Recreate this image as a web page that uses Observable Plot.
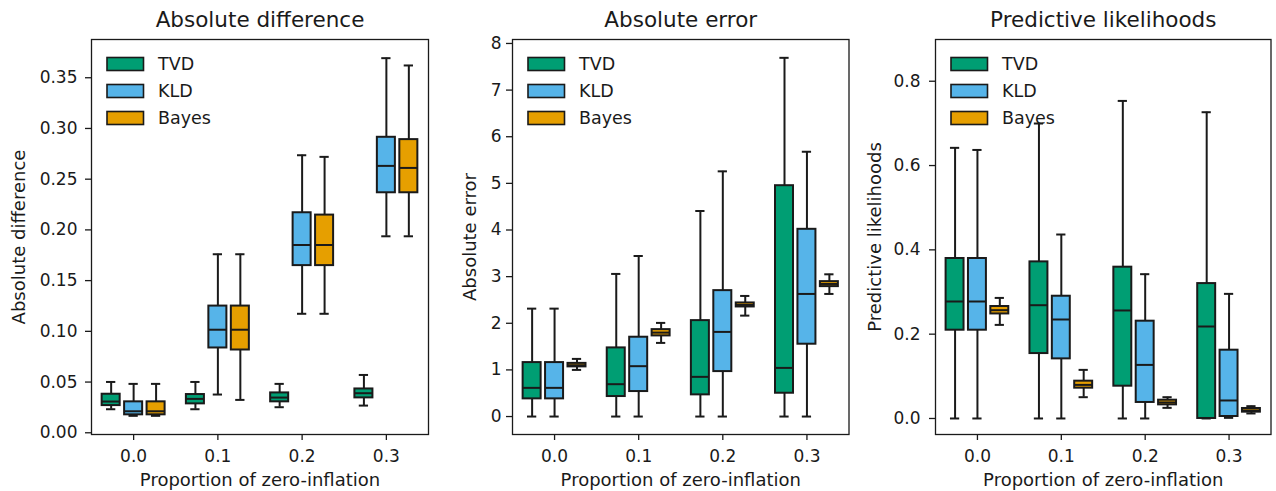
<!DOCTYPE html>
<html>
<head>
<meta charset="utf-8">
<script src="https://cdn.jsdelivr.net/npm/d3@7"></script>
<script src="https://cdn.jsdelivr.net/npm/@observablehq/plot@0.6"></script>
<style>
  html, body { margin: 0; padding: 0; background: #fff; }
  #root { position: relative; width: 1276px; height: 491px; overflow: hidden; }
  #root svg { position: absolute; left: 0; top: 0; }
</style>
</head>
<body>
<div id="root"></div>
<script>
// ---------- data ----------
const proportions = ["0.0", "0.1", "0.2", "0.3"];
const methods = ["TVD", "KLD", "Bayes"];
const methodColors = ["#009E73", "#56B4E9", "#E69F00"];

// each entry: [lower whisker, Q1, median, Q3, upper whisker], one per proportion
const absDiffTVD = [
  [0.0232, 0.0268, 0.0308, 0.0380, 0.0501],
  [0.0232, 0.0285, 0.0334, 0.0377, 0.0501],
  [0.0252, 0.0305, 0.0347, 0.0393, 0.0482],
  [0.0268, 0.0344, 0.0390, 0.0432, 0.0570]
];
const absDiffKLD = [
  [0.0167, 0.0177, 0.0212, 0.0305, 0.0482],
  [0.0377, 0.0836, 0.1016, 0.1249, 0.1760],
  [0.1173, 0.1648, 0.1851, 0.2169, 0.2736],
  [0.1937, 0.2366, 0.2631, 0.2913, 0.3693]
];
const absDiffBayes = [
  [0.0167, 0.0177, 0.0212, 0.0305, 0.0482],
  [0.0324, 0.0816, 0.1016, 0.1249, 0.1760],
  [0.1173, 0.1648, 0.1851, 0.2146, 0.2720],
  [0.1937, 0.2366, 0.2611, 0.2890, 0.3621]
];

const absErrTVD = [
  [0, 0.379, 0.615, 1.157, 2.314],
  [0, 0.429, 0.694, 1.472, 3.058],
  [0, 0.465, 0.851, 2.057, 4.408],
  [0, 0.500, 1.043, 4.950, 7.692]
];
const absErrKLD = [
  [0, 0.379, 0.615, 1.157, 2.314],
  [0, 0.536, 1.080, 1.701, 3.443],
  [0, 0.964, 1.815, 2.700, 5.258],
  [0, 1.551, 2.629, 4.015, 5.678]
];
const absErrBayes = [
  [1.000, 1.065, 1.100, 1.140, 1.236],
  [1.579, 1.729, 1.800, 1.864, 2.008],
  [2.164, 2.350, 2.393, 2.436, 2.586],
  [2.629, 2.786, 2.843, 2.893, 3.050]
];

const predTVD = [
  [0, 0.2094, 0.2775, 0.3795, 0.6420],
  [0, 0.1540, 0.2687, 0.3715, 0.6997],
  [0, 0.0766, 0.2562, 0.3589, 0.7533],
  [0, 0.0000, 0.2182, 0.3200, 0.7265]
];
const predKLD = [
  [0, 0.2094, 0.2775, 0.3795, 0.6370],
  [0, 0.1414, 0.2348, 0.2900, 0.4364],
  [0, 0.0380, 0.1271, 0.2308, 0.3423],
  [0.0015, 0.0047, 0.0427, 0.1620, 0.2956]
];
const predBayes = [
  [0.2220, 0.2480, 0.2569, 0.2656, 0.2860],
  [0.0505, 0.0719, 0.0797, 0.0885, 0.1153],
  [0.0252, 0.0323, 0.0380, 0.0434, 0.0505],
  [0.0119, 0.0150, 0.0190, 0.0237, 0.0292]
];

const absDiffTicks = [0, 0.05, 0.10, 0.15, 0.20, 0.25, 0.30, 0.35];
const absErrTicks = [0, 1, 2, 3, 4, 5, 6, 7, 8];
const predTicks = [0, 0.2, 0.4, 0.6, 0.8];

const titles = ["Absolute difference", "Absolute error", "Predictive likelihoods"];
const xLabel = "Proportion of zero-inflation";

// ---------- layout ----------
const W = 1276, H = 491;
const TOP = 39, BOTTOM = 434;
const dodge = 0.8 / 3;      // hue offset
const boxHalf = 0.107;      // half box width (x units)
const capHalf = 0.055;      // half cap width
const ink = "#1a1a1a";
const tickFont = 17, labelFont = 18, titleFont = 21.5, legendFont = 17.5;

const panels = [
  {title: titles[0], series: [absDiffTVD, absDiffKLD, absDiffBayes], domain: [-0.0017, 0.3877],
   ticks: absDiffTicks, fmt: d => d.toFixed(2), left: 91, right: 428, pad: 8, ylabDx: -72},
  {title: titles[1], series: [absErrTVD, absErrKLD, absErrBayes], domain: [-0.385, 8.085],
   ticks: absErrTicks, fmt: d => d.toFixed(0), left: 512, right: 848.5, pad: 5, ylabDx: -42.7},
  {title: titles[2], series: [predTVD, predKLD, predBayes], domain: [-0.038, 0.899],
   ticks: predTicks, fmt: d => d.toFixed(1), left: 935, right: 1270.5, pad: 9, ylabDx: -60.7}
];

function rowsOf(series) {
  const rows = [];
  proportions.forEach((p, i) => {
    methods.forEach((m, k) => {
      const [lo, q1, med, q3, hi] = series[k][i];
      rows.push({x: i + (k - 1) * dodge, method: m, lo, q1, med, q3, hi});
    });
  });
  return rows;
}

function legendMark(index, scales, values, dims) {
  const g = d3.create("svg:g");
  const x0 = dims.marginLeft + 16;
  methods.forEach((m, k) => {
    const yTop = dims.marginTop + 18.5 + k * 27;
    g.append("rect")
      .attr("x", x0).attr("y", yTop).attr("width", 36.5).attr("height", 13)
      .attr("fill", methodColors[k]).attr("stroke", ink).attr("stroke-width", 1.6);
    g.append("text")
      .attr("x", x0 + 51).attr("y", yTop + 6.5).attr("dy", "0.36em")
      .attr("text-anchor", "start")
      .attr("fill", ink).attr("font-size", legendFont + "px")
      .text(m);
  });
  return g.node();
}

const root = document.getElementById("root");

panels.forEach(P => {
  const rows = rowsOf(P.series);
  const bx1 = d => d.x - boxHalf, bx2 = d => d.x + boxHalf;
  const cx1 = d => d.x - capHalf, cx2 = d => d.x + capHalf;
  const plot = Plot.plot({
    width: W, height: H,
    marginLeft: P.left, marginRight: W - P.right,
    marginTop: TOP, marginBottom: H - BOTTOM,
    style: {fontFamily: "'DejaVu Sans', sans-serif", fontSize: tickFont + "px", color: ink,
            background: "none", maxWidth: "none", overflow: "visible"},
    x: {type: "linear", domain: [-0.5, 3.5]},
    y: {domain: P.domain},
    color: {domain: methods, range: methodColors},
    marks: [
      Plot.ruleX(rows, {x: "x", y1: "lo", y2: "q1", stroke: ink, strokeWidth: 2}),
      Plot.ruleX(rows, {x: "x", y1: "q3", y2: "hi", stroke: ink, strokeWidth: 2}),
      Plot.ruleY(rows, {y: "lo", x1: cx1, x2: cx2, stroke: ink, strokeWidth: 2}),
      Plot.ruleY(rows, {y: "hi", x1: cx1, x2: cx2, stroke: ink, strokeWidth: 2}),
      Plot.rect(rows, {x1: bx1, x2: bx2, y1: "q1", y2: "q3", fill: "method", stroke: ink, strokeWidth: 2}),
      Plot.ruleY(rows, {y: "med", x1: bx1, x2: bx2, stroke: ink, strokeWidth: 2}),
      Plot.frame({stroke: ink, strokeWidth: 1.3}),
      Plot.axisX({ticks: [0, 1, 2, 3], tickFormat: d => proportions[d], tickSize: 6,
                  tickPadding: 9, label: null, strokeWidth: 1.3}),
      Plot.axisY({ticks: P.ticks, tickFormat: P.fmt, tickSize: 6, tickPadding: P.pad,
                  label: null, strokeWidth: 1.3}),
      Plot.text([P.title], {frameAnchor: "top", lineAnchor: "middle", dy: -19,
                            fontSize: titleFont, fill: ink}),
      Plot.text([xLabel], {frameAnchor: "bottom", lineAnchor: "middle", dy: 46,
                           fontSize: labelFont, fill: ink}),
      Plot.text([P.title], {frameAnchor: "left", textAnchor: "middle", lineAnchor: "middle",
                            dx: P.ylabDx, rotate: -90, fontSize: labelFont, fill: ink}),
      legendMark
    ]
  });
  root.appendChild(plot);
});
</script>
</body>
</html>
